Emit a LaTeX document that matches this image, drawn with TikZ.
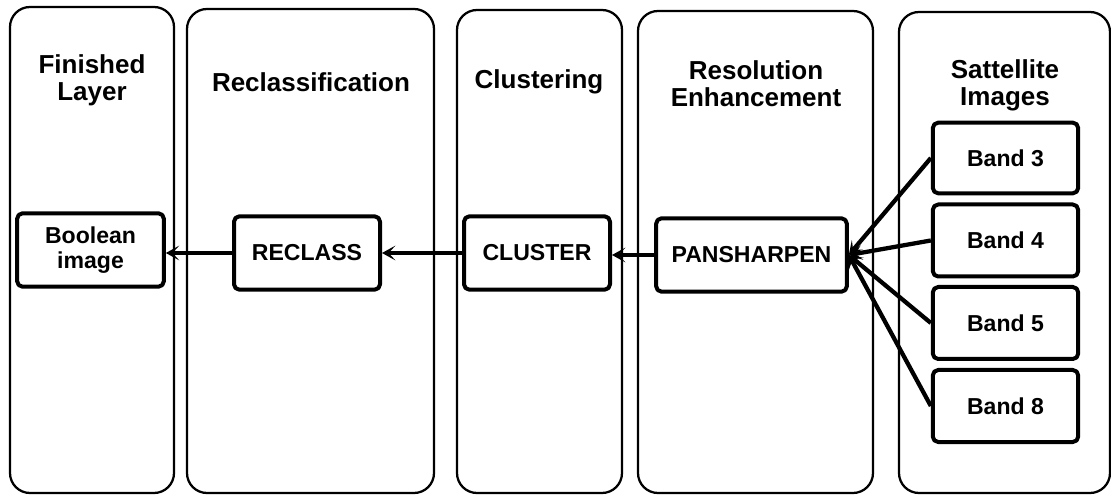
\documentclass[tikz,border=0pt]{standalone}
\usepackage{fontspec}
\setmainfont{Liberation Sans}
\usetikzlibrary{arrows.meta}
\begin{document}
\begin{tikzpicture}
% Workflow lanes, placed in pixel units of the page
\def\pxsz{0.75pt}
\providecommand{\laneLineWidth}{1.7pt}
\providecommand{\boxLineWidth}{3pt}
\providecommand{\flowLineWidth}{3.2pt}
\tikzset{
  lane/.style={draw=black, line width=\laneLineWidth, rounded corners=15pt},
  lanetitle/.style={font=\fontsize{19.5}{20.3}\selectfont\bfseries, align=center, inner sep=0pt},
  stepbox/.style={draw=black, line width=\boxLineWidth, rounded corners=4pt, fill=white,
    font=\fontsize{17.3}{19}\selectfont\bfseries, align=center, inner sep=0pt,
    minimum width=109.5pt, minimum height=55pt},
  flow/.style={-{Stealth[length=10pt,width=11pt,inset=5pt]}, line width=\flowLineWidth},
}
\begin{scope}[x=\pxsz, y=-\pxsz, line join=round]
  \useasboundingbox (0,0) rectangle (1111,495);
  % Lanes
  \draw[lane] (10,7) rectangle (174,493);
  \draw[lane] (187,9) rectangle (434,493);
  \draw[lane] (457,10) rectangle (622,493);
  \draw[lane] (638,11) rectangle (873,493);
  \draw[lane] (899,12) rectangle (1110,493);
  % Lane titles
  \node[lanetitle] (finishedTitle) at (92,80) {Finished\\Layer};
  \node[lanetitle] (reclassTitle) at (311,82) {Reclassification};
  \node[lanetitle] (clusterTitle) at (539,82) {Clustering};
  \node[lanetitle] (resolutionTitle) at (756,84) {Resolution\\Enhancement};
  \node[lanetitle] (satelliteTitle) at (1005,85) {Sattellite\\Images};
  % Steps
  \node[stepbox, minimum width=110pt] (boolean) at (90.5,250) {Boolean\\image};
  \node[stepbox] (reclass) at (307,253) {RECLASS};
  \node[stepbox] (cluster) at (537,253) {CLUSTER};
  \node[stepbox, minimum width=143pt] (pansharpen) at (751.5,255) {PANSHARPEN};
  % Bands
  \node[stepbox, minimum width=109pt, minimum height=53pt] (band3) at (1005.5,158) {Band 3};
  \node[stepbox, minimum width=109pt, minimum height=54pt] (band4) at (1005.5,240.5) {Band 4};
  \node[stepbox, minimum width=109pt, minimum height=54pt] (band5) at (1005.5,323) {Band 5};
  \node[stepbox, minimum width=109pt, minimum height=54pt] (band8) at (1005.5,406) {Band 8};
  % Flow
  \draw[flow] (reclass.west) -- (boolean.east |- reclass.west);
  \draw[flow] (cluster.west) -- (reclass.east);
  \draw[flow] (pansharpen.west) -- (cluster.east |- pansharpen.west);
  \draw[flow] (band3.west) -- (pansharpen.east);
  \draw[flow] (band4.west) -- (pansharpen.east);
  \draw[flow] (band5.west) -- (pansharpen.east);
  \draw[flow] (band8.west) -- (pansharpen.east);
\end{scope}
\end{tikzpicture}
\end{document}
